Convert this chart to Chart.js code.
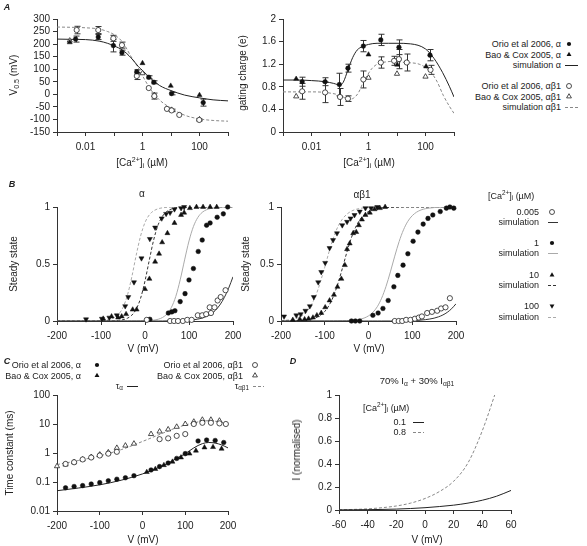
<!DOCTYPE html>
<html>
<head>
<meta charset="utf-8">
<script src="https://cdn.jsdelivr.net/npm/chart.js@4.4.1/dist/chart.umd.min.js"></script>
<style>
  body { margin: 0; background: #fff; width: 587px; height: 546px; position: relative; overflow: hidden;
         font-family: "Liberation Sans", Arial, sans-serif; color: #222; }
  canvas { position: absolute; }
  .t { position: absolute; white-space: nowrap; line-height: 1; }
  .t sub { font-size: 0.7em; vertical-align: -0.3em; line-height: 0; }
  .t sup { font-size: 0.7em; vertical-align: 0.55em; line-height: 0; }
  .p { font-weight: bold; font-style: italic; }
</style>
</head>
<body>
<script>
// ---- A: V0.5 and gating charge vs [Ca2+]i ----
const caOrioA = [0.0045, 0.028, 0.095, 0.19, 0.63, 1.66, 2.5, 10.5, 135];
const vOrioA = [220, 228, 194, 166, 90, 68, 48, 3, -33];
const vOrioAErr = [12, 10, 25, 10, 8, 6, 6, 5, 14];
const caOrioB = [0.0049, 0.028, 0.095, 0.19, 0.63, 1.66, 2.6, 7.2, 10.5, 19.5, 98];
const vOrioB = [256, 256, 223, 196, 73, 25, -7, -58, -64, -82, -102];
const vOrioBErr = [15, 14, 12, 12, 14, 0, 12, 0, 5, 0, 4];
const caBaoA = [0.0028, 1.0, 9.8, 100];
const vBaoA = [207, 124, 34, -3];
const caBaoB = [0.0028, 1.0, 2.6, 10.5, 100];
const vBaoB = [214, 84, -3, -62, -100];
const caSimV = [0.001, 0.003, 0.01, 0.03, 0.06, 0.1, 0.2, 0.4, 0.7, 1, 2, 4, 10, 30, 100, 300, 1000];
const vSimA = [220, 219, 218, 212, 203, 193, 176, 145, 112, 95, 62, 35, 15, -3, -14, -22, -26];
const vSimB = [268, 267, 265, 260, 250, 238, 208, 150, 107, 74, 17, -23, -55, -83, -98, -104, -107];

const caOrioA2 = [0.0047, 0.03, 0.095, 0.19, 0.66, 2.7, 11.7, 144];
const qOrioA = [0.89, 0.89, 0.84, 1.13, 1.52, 1.63, 1.5, 1.36];
const qOrioAErr = [0.08, 0.07, 0.2, 0.07, 0.1, 0.1, 0.13, 0.1];
const caOrioB2 = [0.0047, 0.03, 0.1, 0.19, 0.66, 2.7, 7.9, 11.7, 22, 150];
const qOrioB = [0.72, 0.70, 0.62, 0.59, 0.93, 1.23, 1.26, 1.29, 1.23, 1.1];
const qOrioBErr = [0.14, 0.18, 0.15, 0.05, 0.15, 0.1, 0.08, 0.17, 0.15, 0.08];
const caBaoA2 = [0.0029, 1.0, 10.2, 105];
const qBaoA = [0.94, 1.37, 1.19, 1.16];
const caBaoB2 = [0.0029, 1.0, 10, 100];
const qBaoB = [0.63, 0.96, 1.03, 0.98];
const caSimQA = [0.001, 0.003, 0.01, 0.03, 0.06, 0.1, 0.13, 0.19, 0.28, 0.4, 0.6, 1, 2, 5, 10, 30, 100, 200, 400, 700, 1000];
const qSimA = [0.92, 0.92, 0.91, 0.89, 0.86, 0.83, 0.88, 1.1, 1.32, 1.45, 1.51, 1.55, 1.57, 1.57, 1.57, 1.56, 1.47, 1.3, 1.05, 0.8, 0.62];
const caSimQB = [0.001, 0.003, 0.01, 0.03, 0.1, 0.2, 0.3, 0.45, 0.65, 0.9, 1.3, 2, 4, 8, 20, 60, 140, 250, 420, 700, 1000];
const qSimB = [0.71, 0.71, 0.71, 0.70, 0.65, 0.58, 0.6, 0.7, 0.88, 1.0, 1.12, 1.2, 1.24, 1.25, 1.23, 1.2, 1.08, 0.9, 0.65, 0.45, 0.33];

// ---- B: steady state activation ----
const vGrid = [-200, -180, -160, -140, -120, -100, -90, -80, -70, -60, -50, -40, -30, -20, -10, 0, 10, 20, 30, 40, 50, 60, 70, 80, 90, 100, 110, 120, 130, 140, 150, 160, 170, 180, 190, 200];

const vA0005 = [4, 57, 66, 75, 86, 96, 106, 120, 130, 139, 147, 150, 158, 165, 172, 183];
const sA0005 = [0.01, 0, 0, 0, 0, 0.01, 0.01, 0.05, 0.05, 0.06, 0.12, 0.07, 0.12, 0.18, 0.21, 0.27];
const vA1 = [11, 53, 61, 68, 80, 91, 100, 110, 121, 130, 140, 148, 164, 178, 188];
const sA1 = [0.015, 0.07, 0.08, 0.09, 0.17, 0.24, 0.36, 0.46, 0.61, 0.71, 0.84, 0.86, 0.91, 0.94, 1.0];
const vA10 = [-95, -76, -61, -53, -43, -28, -19, 0, 10, 23, 32, 39, 51, 67, 82, 89, 102, 117, 132, 148, 163];
const sA10 = [0.02, 0.04, 0.03, 0.04, 0.06, 0.10, 0.10, 0.28, 0.37, 0.52, 0.59, 0.69, 0.77, 0.86, 0.93, 0.95, 0.99, 1, 1, 1, 1];
const vA100 = [-134, -98, -81, -64, -45, -38, -25, -8, 11, 23, 38, 48, 57, 67, 82, 89];
const sA100 = [0.015, 0.02, 0.03, 0.05, 0.13, 0.21, 0.34, 0.55, 0.72, 0.82, 0.90, 0.94, 0.95, 0.98, 0.99, 1.0];
const simA0005 = [0,0,0,0,0,0,0,0,0,0,0,0,0,0,0,0,0,0,0,0, 0.0007,0.0011,0.0017,0.0027,0.0043,0.0067,0.0105,0.0164,0.0257,0.04,0.061,0.093,0.14,0.204,0.287,0.388];
const simA1 = [0,0,0,0,0,0,0,0,0,0,0,0, 0.0002,0.0004,0.0009,0.0019,0.0038,0.0077,0.0156,0.031,0.062,0.119,0.216,0.361,0.536,0.702,0.828,0.908,0.953,0.976,0.988,0.994,0.997,0.999,0.999,1];
const simA10 = [0,0,0,0,0, 0.0002,0.0005,0.0011,0.0025,0.0053,0.0114,0.024,0.051,0.104,0.2,0.351,0.538,0.716,0.845,0.921,0.962,0.982,0.992,0.996,0.998,0.999, 1,1,1,1,1,1,1,1,1,1];
const simA100 = [0,0,0,0.0001,0.0006,0.0029,0.0062,0.0133,0.028,0.059,0.119,0.226,0.386,0.577,0.746,0.864,0.932,0.967,0.985,0.993,0.997,0.998,0.999, 1,1,1,1,1,1,1,1,1,1,1,1,1];

const vB0005 = [60, 69, 77, 86, 96, 106, 115, 122, 134, 145, 157, 166, 176, 186];
const sB0005 = [0, 0, 0, 0.01, 0.01, 0.02, 0.03, 0.04, 0.07, 0.08, 0.09, 0.11, 0.12, 0.2];
const vB1 = [-39, -30, -20, 10, 22, 33, 45, 58, 67, 79, 90, 102, 113, 125, 136, 147, 164, 178, 186, 195];
const sB1 = [0, 0, 0, 0.05, 0.07, 0.11, 0.18, 0.30, 0.40, 0.49, 0.59, 0.70, 0.78, 0.85, 0.90, 0.93, 0.96, 0.99, 1.0, 0.99];
const vB10 = [-173, -157, -146, -137, -127, -118, -108, -99, -89, -79, -71, -62, -54, -49, -43, -35, -28, -22, -15, -7, 3, 14, 26, 38];
const sB10 = [0.01, 0.015, 0.015, 0.02, 0.03, 0.05, 0.07, 0.12, 0.18, 0.23, 0.30, 0.37, 0.49, 0.63, 0.68, 0.77, 0.78, 0.84, 0.89, 0.93, 0.95, 0.98, 0.99, 1.0];
const vB100 = [-193, -165, -155, -144, -134, -125, -115, -108, -99, -89, -81, -72, -60, -49, -41, -32, -20, -7, 6, 20];
const sB100 = [0.04, 0.05, 0.06, 0.09, 0.13, 0.21, 0.34, 0.43, 0.51, 0.64, 0.71, 0.77, 0.84, 0.87, 0.90, 0.93, 0.96, 0.99, 0.99, 1.0];
const simB0005 = [0,0,0,0,0,0,0,0,0,0,0,0,0,0,0,0,0,0,0,0,0, 0.0008,0.0012,0.0017,0.0026,0.0038,0.0055,0.0081,0.0119,0.0173,0.025,0.0366,0.053,0.076,0.108,0.151];
const simB1 = [0,0,0,0,0.0001,0.0002,0.0003,0.0006,0.001,0.0017,0.0029,0.005,0.0089,0.015,0.026,0.045,0.076,0.125,0.2,0.303,0.431,0.569,0.697,0.8,0.875,0.924,0.955,0.974,0.985,0.991,0.995,0.997,0.998,0.999,0.999,1];
const simB10 = [0.0004,0.0011,0.0033,0.0099,0.029,0.084,0.138,0.218,0.327,0.458,0.596,0.72,0.818,0.887,0.932,0.96,0.977,0.986,0.992,0.995,0.997,0.998,0.999, 1,1,1,1,1,1,1,1,1,1,1,1,1];
const simB100 = [0.0035,0.0104,0.031,0.088,0.228,0.472,0.609,0.731,0.827,0.892,0.935,0.962,0.978,0.987,0.993,0.996,0.998,0.999, 1,1,1,1,1,1,1,1,1,1,1,1,1,1,1,1,1,1];

// ---- C: time constants ----
const vCOrioA = [-180, -160, -140, -120, -100, -80, -60, -40, -20, 20, 40, 60, 80, 100, 130, 150, 170, 190];
const tCOrioA = [0.063, 0.07, 0.075, 0.085, 0.095, 0.11, 0.125, 0.14, 0.165, 0.26, 0.34, 0.45, 0.65, 0.95, 2.6, 2.8, 2.7, 2.3];
const vCBaoA = [10, 30, 50, 70, 90, 110, 125, 145, 165, 185];
const tCBaoA = [0.22, 0.28, 0.38, 0.5, 0.7, 0.95, 1.2, 1.55, 1.6, 1.4];
const vCOrioB = [-180, -160, -140, -120, -100, -80, -60, 40, 60, 80, 100, 120, 140, 160, 180, 195];
const tCOrioB = [0.42, 0.48, 0.6, 0.7, 0.82, 0.95, 1.1, 3.0, 3.2, 3.9, 4.5, 10, 11, 11, 10.5, 10];
const vCBaoB = [-200, -180, -160, -140, -120, -100, -80, -60, -40, -20, 20, 40, 60, 80, 100, 120, 140, 160, 180];
const tCBaoB = [0.35, 0.4, 0.48, 0.6, 0.72, 0.88, 1.05, 1.5, 1.8, 2.1, 4.5, 5.5, 6.5, 8, 10, 12, 14, 14, 13];
const vCSim = [-200, -150, -100, -50, 0, 50, 80, 100, 120, 140, 155, 170, 185, 200];
const tauA = [0.05, 0.062, 0.08, 0.115, 0.19, 0.38, 0.65, 0.95, 1.5, 2.1, 2.3, 2.2, 1.9, 1.5];
const tauB = [0.4, 0.55, 0.8, 1.3, 2.5, 5, 7.5, 9.2, 11, 12.5, 13, 12.5, 11.5, 10];

// ---- D: mixed current ----
const vD = [-60, -50, -40, -30, -20, -10, 0, 10, 20, 30, 40, 50, 60];
const iD01 = [0.001, 0.002, 0.003, 0.005, 0.008, 0.013, 0.02, 0.03, 0.042, 0.06, 0.085, 0.12, 0.17];
const vD08 = [-60, -50, -40, -30, -20, -10, 0, 10, 20, 30, 40, 50];
const iD08 = [0.003, 0.005, 0.01, 0.02, 0.035, 0.06, 0.1, 0.16, 0.25, 0.41, 0.69, 1.05];

const decadeTicks = [0.001, 0.01, 0.1, 1, 10, 100, 1000];
const decadeLabels = ['', '0.01', '', '1', '', '100', ''];
const tauTicks = [0.01, 0.1, 1, 10, 100];
const tauLabels = ['0.01', '0.1', '1', '10', '100'];

const FONT = '"Liberation Sans", Arial, sans-serif';
const PAD = { l: 50, t: 10, r: 18, b: 30 };

// error bars drawn behind the markers, through the chart scales
const errorBars = {
  id: 'errorBars',
  beforeDatasetsDraw(chart) {
    const ctx = chart.ctx, xs = chart.scales.x, ys = chart.scales.y;
    chart.data.datasets.forEach(ds => {
      if (!ds.errors) return;
      ctx.save();
      ctx.strokeStyle = '#333';
      ctx.lineWidth = 1;
      ds.data.forEach((p, j) => {
        const e = ds.errors[j];
        if (!e) return;
        const px = Math.round(xs.getPixelForValue(p.x)) + 0.5;
        const y1 = ys.getPixelForValue(p.y - e), y2 = ys.getPixelForValue(p.y + e);
        ctx.beginPath();
        ctx.moveTo(px, y1); ctx.lineTo(px, y2);
        ctx.moveTo(px - 3, y1); ctx.lineTo(px + 3, y1);
        ctx.moveTo(px - 3, y2); ctx.lineTo(px + 3, y2);
        ctx.stroke();
      });
      ctx.restore();
    });
  }
};

const gridStyle = { drawOnChartArea: false, drawTicks: true, tickLength: 4, color: '#333', lineWidth: 1 };
const borderStyle = { display: true, color: '#333', width: 1 };

function tickStyle(pad, extra) {
  return Object.assign({ color: '#222', font: { family: FONT, size: 10 }, padding: pad, maxRotation: 0, autoSkip: false }, extra || {});
}
function linAxis(min, max, step, pad) {
  return {
    type: 'linear', min, max, grid: gridStyle, border: borderStyle,
    ticks: tickStyle(pad, { stepSize: step, callback: v => String(+v.toFixed(4)) })
  };
}
function logAxis(vals, labels, pad) {
  return {
    type: 'logarithmic', min: vals[0], max: vals[vals.length - 1], grid: gridStyle, border: borderStyle,
    afterBuildTicks: s => { s.ticks = vals.map(v => ({ value: v })); },
    ticks: tickStyle(pad, { callback: (v, i) => labels[i] })
  };
}

function marks(xs, ys, kind, errs) {
  const open = kind === 'ring' || kind === 'upOpen';
  const radius = { dot: 2.3, ring: 2.6, up: 2.9, upOpen: 3.0, down: 2.9 }[kind];
  return {
    data: xs.map((x, i) => ({ x, y: ys[i] })), errors: errs, showLine: false,
    pointStyle: (kind === 'dot' || kind === 'ring') ? 'circle' : 'triangle',
    pointRotation: kind === 'down' ? 180 : 0,
    pointRadius: radius,
    backgroundColor: open ? '#fff' : '#111', borderColor: open ? '#222' : '#111',
    borderWidth: open ? 0.8 : 0.5, clip: 8
  };
}
function curve(xs, ys, color, dash) {
  return {
    data: xs.map((x, i) => ({ x, y: ys[i] })), showLine: true, pointRadius: 0,
    borderColor: color, borderWidth: 1, borderDash: dash || [], cubicInterpolationMode: 'monotone', fill: false
  };
}

function panel(box, xAxis, yAxis, datasets) {
  const cv = document.createElement('canvas');
  const w = box.r - box.l + PAD.l + PAD.r, h = box.b - box.t + PAD.t + PAD.b;
  cv.width = w; cv.height = h;
  cv.style.left = (box.l - PAD.l) + 'px';
  cv.style.top = (box.t - PAD.t) + 'px';
  cv.style.width = w + 'px'; cv.style.height = h + 'px';
  document.body.appendChild(cv);
  xAxis.afterFit = s => { s.height = PAD.b; };
  yAxis.afterFit = s => { s.width = PAD.l; };
  return new Chart(cv, {
    type: 'scatter',
    data: { datasets },
    options: {
      responsive: false, animation: false, events: [],
      layout: { autoPadding: false, padding: { left: 0, top: PAD.t, right: PAD.r, bottom: 0 } },
      plugins: { legend: { display: false }, tooltip: { enabled: false } },
      scales: { x: xAxis, y: yAxis }
    },
    plugins: [errorBars]
  });
}

const DASH = [3, 2];

panel({ l: 57, t: 19, r: 228, b: 132 }, logAxis(decadeTicks, decadeLabels, 5), linAxis(-150, 300, 50, 3), [
  marks(caOrioA, vOrioA, 'dot', vOrioAErr),
  marks(caBaoA, vBaoA, 'up'),
  marks(caOrioB, vOrioB, 'ring', vOrioBErr),
  marks(caBaoB, vBaoB, 'upOpen'),
  curve(caSimV, vSimA, '#222'),
  curve(caSimV, vSimB, '#888', DASH)
]);

panel({ l: 283, t: 19, r: 454, b: 132 }, logAxis(decadeTicks, decadeLabels, 5), linAxis(0, 2, 0.4, 3), [
  marks(caOrioA2, qOrioA, 'dot', qOrioAErr),
  marks(caBaoA2, qBaoA, 'up'),
  marks(caOrioB2, qOrioB, 'ring', qOrioBErr),
  marks(caBaoB2, qBaoB, 'upOpen'),
  curve(caSimQA, qSimA, '#222'),
  curve(caSimQB, qSimB, '#888', DASH)
]);

panel({ l: 57, t: 207, r: 233, b: 321 }, linAxis(-200, 200, 100, 5), linAxis(0, 1, 0.5, 3), [
  marks(vA0005, sA0005, 'ring'),
  marks(vA1, sA1, 'dot'),
  marks(vA10, sA10, 'up'),
  marks(vA100, sA100, 'down'),
  curve(vGrid, simA0005, '#333'),
  curve(vGrid, simA1, '#aaa'),
  curve(vGrid, simA10, '#333', DASH),
  curve(vGrid, simA100, '#aaa', DASH)
]);

panel({ l: 281, t: 207, r: 456, b: 321 }, linAxis(-200, 200, 100, 5), linAxis(0, 1, 0.5, 3), [
  marks(vB0005, sB0005, 'ring'),
  marks(vB1, sB1, 'dot'),
  marks(vB10, sB10, 'up'),
  marks(vB100, sB100, 'down'),
  curve(vGrid, simB0005, '#333'),
  curve(vGrid, simB1, '#aaa'),
  curve(vGrid, simB10, '#333', DASH),
  curve(vGrid, simB100, '#aaa', DASH)
]);

panel({ l: 57, t: 395, r: 228, b: 511 }, linAxis(-200, 200, 100, 5), logAxis(tauTicks, tauLabels, 3), [
  marks(vCOrioA, tCOrioA, 'dot'),
  marks(vCBaoA, tCBaoA, 'up'),
  marks(vCOrioB, tCOrioB, 'ring'),
  marks(vCBaoB, tCBaoB, 'upOpen'),
  curve(vCSim, tauA, '#222'),
  curve(vCSim, tauB, '#888', DASH)
]);

panel({ l: 339, t: 395, r: 511, b: 510 }, linAxis(-60, 60, 20, 5), linAxis(0, 1, 0.2, 3), [
  curve(vD, iD01, '#222'),
  curve(vD08, iD08, '#888', DASH)
]);

// ---- text ----
function text(html, x, y, opt) {
  opt = opt || {};
  const d = document.createElement('div');
  d.className = 't' + (opt.cls ? ' ' + opt.cls : '');
  d.innerHTML = html;
  d.style.left = x + 'px';
  d.style.top = y + 'px';
  d.style.fontSize = (opt.size || 9.5) + 'px';
  let tf = opt.align === 'r' ? 'translate(-100%,-50%)' : opt.align === 'l' ? 'translate(0,-50%)' : 'translate(-50%,-50%)';
  if (opt.rot) tf = 'translate(-50%,-50%) rotate(-90deg)';
  d.style.transform = tf;
  document.body.appendChild(d);
}
const CA = '[Ca<sup>2+</sup>]<sub>i</sub> (µM)';

text('A', 7, 7, { cls: 'p', size: 9 });
text('B', 12, 184, { cls: 'p', size: 9 });
text('C', 7, 361, { cls: 'p', size: 9 });
text('D', 293, 361, { cls: 'p', size: 9 });

text('V<sub>0.5</sub> (mV)', 14, 75, { rot: true, size: 10 });
text(CA, 142, 163, { size: 10 });
text('gating charge (e)', 243, 73, { rot: true, size: 10 });
text(CA, 369, 163, { size: 10 });

text('α', 142, 194, { size: 10 });
text('αβ1', 362, 195, { size: 10 });
text('Steady state', 14, 264, { rot: true, size: 10 });
text('Steady state', 246, 264, { rot: true, size: 10 });
text('V (mV)', 143, 349, { size: 10 });
text('V (mV)', 369, 349, { size: 10 });

text('Time constant (ms)', 10, 453, { rot: true, size: 10 });
text('V (mV)', 143, 540, { size: 10 });
text('I (normalised)', 297, 450, { rot: true, size: 10 });
text('V (mV)', 427, 540, { size: 10 });
text('70% I<sub>α</sub> + 30% I<sub>αβ1</sub>', 417, 381, { size: 9.5 });

// legend A
text('Orio et al 2006, α', 561, 44, { align: 'r', size: 9 });
text('Bao &amp; Cox 2005, α', 561, 54.5, { align: 'r', size: 9 });
text('simulation α', 561, 65, { align: 'r', size: 9 });
text('Orio et al 2006, αβ1', 561, 86, { align: 'r', size: 9 });
text('Bao &amp; Cox 2005, αβ1', 561, 96.5, { align: 'r', size: 9 });
text('simulation αβ1', 561, 107, { align: 'r', size: 9 });

// legend B
text(CA, 488, 196, { align: 'l', size: 9 });
text('0.005', 539, 212, { align: 'r', size: 9 });
text('simulation', 539, 222, { align: 'r', size: 9 });
text('1', 539, 243, { align: 'r', size: 9 });
text('simulation', 539, 253, { align: 'r', size: 9 });
text('10', 539, 275, { align: 'r', size: 9 });
text('simulation', 539, 285, { align: 'r', size: 9 });
text('100', 539, 306, { align: 'r', size: 9 });
text('simulation', 539, 317, { align: 'r', size: 9 });

// legend C
text('Orio et al 2006, α', 81, 365, { align: 'r', size: 9 });
text('Bao &amp; Cox 2005, α', 81, 375.5, { align: 'r', size: 9 });
text('τ<sub>α</sub>', 123, 386, { align: 'r', size: 9 });
text('Orio et al 2006, αβ1', 243, 365, { align: 'r', size: 9 });
text('Bao &amp; Cox 2005, αβ1', 243, 375.5, { align: 'r', size: 9 });
text('τ<sub>αβ1</sub>', 249, 386, { align: 'r', size: 9 });

// legend D
text(CA, 363, 408, { align: 'l', size: 9 });
text('0.1', 406, 422, { align: 'r', size: 9 });
text('0.8', 406, 432, { align: 'r', size: 9 });

// legend symbols
const ov = document.createElement('canvas');
ov.width = 587; ov.height = 546;
ov.style.left = '0px'; ov.style.top = '0px';
document.body.appendChild(ov);
const g = ov.getContext('2d');
function sym(kind, x, y) {
  g.save();
  g.beginPath();
  if (kind === 'dot' || kind === 'ring') {
    g.arc(x, y, kind === 'dot' ? 2.1 : 2.5, 0, Math.PI * 2);
  } else {
    const r = 2.8, d = kind === 'down' ? -1 : 1;
    g.moveTo(x, y - d * r);
    g.lineTo(x + r * 0.87, y + d * r * 0.5);
    g.lineTo(x - r * 0.87, y + d * r * 0.5);
    g.closePath();
  }
  if (kind === 'ring' || kind === 'upOpen') {
    g.fillStyle = '#fff'; g.fill();
    g.strokeStyle = '#222'; g.lineWidth = 0.8; g.stroke();
  } else {
    g.fillStyle = '#111'; g.fill();
  }
  g.restore();
}
function seg(x1, x2, y, color, dash) {
  g.save();
  g.strokeStyle = color; g.lineWidth = 1;
  g.setLineDash(dash || []);
  g.beginPath(); g.moveTo(x1, y + 0.5); g.lineTo(x2, y + 0.5); g.stroke();
  g.restore();
}
sym('dot', 569, 44); sym('up', 569, 54.5); seg(565, 578, 65, '#222');
sym('ring', 569, 86); sym('upOpen', 569, 96.5); seg(565, 578, 107, '#888', DASH);

sym('ring', 552, 212); seg(548, 558, 222, '#333');
sym('dot', 552, 243); seg(548, 558, 253, '#aaa');
sym('up', 552, 275); seg(548, 558, 285, '#333', DASH);
sym('down', 552, 306); seg(548, 558, 317, '#aaa', DASH);

sym('dot', 97, 365); sym('up', 97, 375.5); seg(127, 138, 386, '#222');
sym('ring', 255, 365); sym('upOpen', 255, 375.5); seg(253, 264, 386, '#888', DASH);

seg(413, 424, 422, '#222'); seg(413, 424, 432, '#888', DASH);
</script>
</body>
</html>
